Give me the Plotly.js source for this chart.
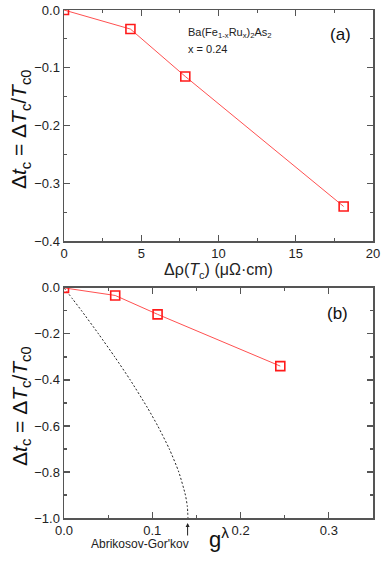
<!DOCTYPE html>
<html>
<head>
<meta charset="utf-8">
<script src="https://cdn.plot.ly/plotly-3.0.1.min.js"></script>
<style>
  html, body { margin: 0; padding: 0; background: #fff; }
  #plot { width: 382px; height: 562px; }
</style>
</head>
<body>
<div id="plot"></div>
<script>
// panel (a): Tc suppression vs residual resistivity change
const deltaRho = [0, 4.3, 7.85, 18.1];
const deltaTcA = [0, -0.033, -0.115, -0.34];

// panel (b): same data vs dimensionless scattering rate g^lambda
const gLambda = [0, 0.058, 0.106, 0.245];
const deltaTcB = [0, -0.033, -0.115, -0.34];

// Abrikosov-Gor'kov curve
const agX = [0, 0.0101, 0.0200, 0.0391, 0.0575, 0.075, 0.0944, 0.1062, 0.1193, 0.130, 0.1375, 0.1397, 0.1404];
const agY = [0, -0.05, -0.1, -0.2, -0.3, -0.4, -0.52, -0.6, -0.7, -0.8, -0.9, -0.95, -1.0];

const font = 'Liberation Sans, Arial, sans-serif';
const red = '#ff1a1a';
const axisColor = '#555';

const marker = { symbol: 'square-open', size: 9, color: red, line: { width: 1.6, color: red } };

const data = [
    {
        x: deltaRho, y: deltaTcA,
        type: 'scatter', mode: 'lines+markers',
        line: { color: '#ff5050', width: 1 },
        marker: marker,
        xaxis: 'x', yaxis: 'y',
        cliponaxis: true,
    },
    {
        x: agX, y: agY,
        type: 'scatter', mode: 'lines',
        line: { color: '#222', width: 1, dash: '2px,2px', shape: 'spline', smoothing: 0.6 },
        xaxis: 'x2', yaxis: 'y2',
    },
    {
        x: gLambda, y: deltaTcB,
        type: 'scatter', mode: 'lines+markers',
        line: { color: '#ff5050', width: 1 },
        marker: marker,
        xaxis: 'x2', yaxis: 'y2',
        cliponaxis: true,
    },
];

function axis(extra) {
    return Object.assign({
        showline: true, mirror: 'allticks', linecolor: axisColor, linewidth: 1.5,
        ticks: 'inside', ticklen: 6, tickwidth: 1.2, tickcolor: axisColor,
        showgrid: false, zeroline: false,
        tickfont: { family: font, size: 13, color: '#222' },
    }, extra);
}

const yTitle = 'Δ<i>t</i><sub>c</sub> = Δ<i>T</i><sub>c</sub>/<i>T</i><sub>c0</sub>';

const layout = {
    width: 382, height: 562,
    margin: { l: 64, r: 9, t: 10, b: 44 },
    paper_bgcolor: '#fff', plot_bgcolor: '#fff',
    showlegend: false,
    font: { family: font, color: '#222' },
    xaxis: axis({
        domain: [0, 1], anchor: 'y', range: [0, 20], dtick: 5,
        minor: { dtick: 2.5, ticklen: 3, tickcolor: axisColor, ticks: 'inside' },
        title: { text: 'Δρ(<i>T</i><sub>c</sub>) (μΩ·cm)', font: { family: font, size: 16 }, standoff: 2 },
    }),
    yaxis: axis({
        domain: [0.545, 1], anchor: 'x', range: [-0.4, 0], dtick: 0.1, tickformat: '.1f',
        minor: { dtick: 0.05, ticklen: 3, tickcolor: axisColor, ticks: 'inside' },
    }),
    xaxis2: axis({
        domain: [0, 1], anchor: 'y2', range: [0, 0.35], dtick: 0.1, tickformat: '.1f',
        minor: { dtick: 0.05, ticklen: 3, tickcolor: axisColor, ticks: 'inside' },
    }),
    yaxis2: axis({
        domain: [0, 0.453], anchor: 'x2', range: [-1.0, 0], dtick: 0.2, tickformat: '.1f',
        minor: { dtick: 0.1, ticklen: 3, tickcolor: axisColor, ticks: 'inside' },
    }),
    annotations: [
        { xref: 'paper', yref: 'paper', x: -0.14, y: 0.765, xanchor: 'center', yanchor: 'middle',
          text: yTitle, textangle: -90, showarrow: false, font: { family: font, size: 21, color: '#111' } },
        { xref: 'paper', yref: 'paper', x: -0.14, y: 0.22, xanchor: 'center', yanchor: 'middle',
          text: yTitle, textangle: -90, showarrow: false, font: { family: font, size: 21, color: '#111' } },
        { xref: 'x', yref: 'y', x: 7.9, y: -0.040, xanchor: 'left', text: 'Ba(Fe<sub>1-x</sub>Ru<sub>x</sub>)<sub>2</sub>As<sub>2</sub>',
          showarrow: false, font: { family: font, size: 11, color: '#222' } },
        { xref: 'x', yref: 'y', x: 7.9, y: -0.068, xanchor: 'left', text: 'x = 0.24',
          showarrow: false, font: { family: font, size: 11, color: '#222' } },
        { xref: 'x', yref: 'y', x: 17.9, y: -0.043, text: '(a)',
          showarrow: false, font: { family: font, size: 17, color: '#111' } },
        { xref: 'x2', yref: 'y2', x: 0.31, y: -0.11, text: '(b)',
          showarrow: false, font: { family: font, size: 17, color: '#111' } },
        { xref: 'x2', yref: 'y2', x: 0.14, y: -1.0, text: ' ', showarrow: true,
          ax: 0, ay: 26, arrowhead: 2, arrowsize: 0.8, arrowwidth: 1, arrowcolor: '#222', standoff: 5 },
        { xref: 'x2', yref: 'paper', x: 0.0864, y: 0, yshift: -35, text: "Abrikosov-Gor'kov",
          showarrow: false, font: { family: font, size: 12, color: '#222' } },
        { xref: 'x2', yref: 'paper', x: 0.175, y: 0, yshift: -36, text: 'g<sup>λ</sup>',
          showarrow: false, font: { family: font, size: 22, color: '#111' } },
    ],
};

Plotly.newPlot('plot', data, layout, { displayModeBar: false, staticPlot: true });
</script>
</body>
</html>
